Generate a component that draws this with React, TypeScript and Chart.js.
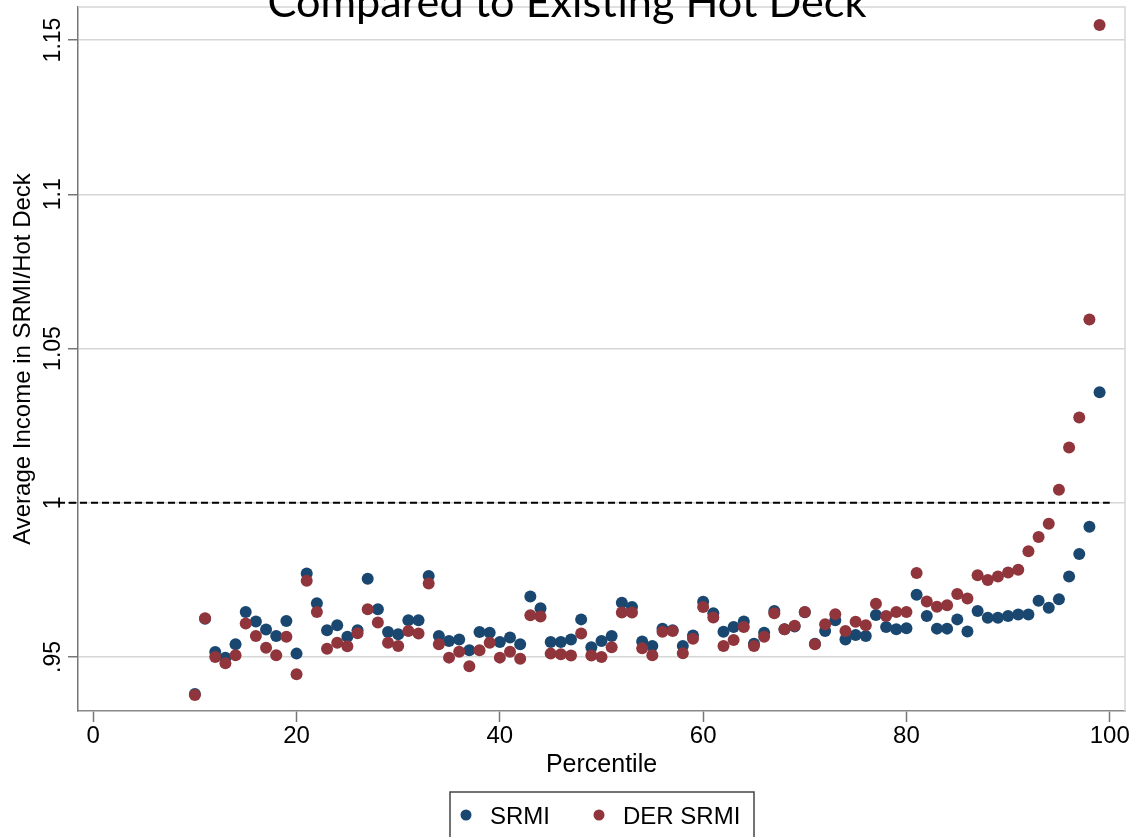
import React, { useEffect, useRef } from 'react';
import { Chart, registerables } from 'chart.js';

Chart.register(...registerables);

const percentiles = [
  10, 11, 12, 13, 14, 15, 16, 17, 18, 19,
  20, 21, 22, 23, 24, 25, 26, 27, 28, 29,
  30, 31, 32, 33, 34, 35, 36, 37, 38, 39,
  40, 41, 42, 43, 44, 45, 46, 47, 48, 49,
  50, 51, 52, 53, 54, 55, 56, 57, 58, 59,
  60, 61, 62, 63, 64, 65, 66, 67, 68, 69,
  70, 71, 72, 73, 74, 75, 76, 77, 78, 79,
  80, 81, 82, 83, 84, 85, 86, 87, 88, 89,
  90, 91, 92, 93, 94, 95, 96, 97, 98, 99,
];

const srmi = [
  0.9380, 0.9624, 0.9516, 0.9498, 0.9541, 0.9646, 0.9615, 0.9589, 0.9568, 0.9617,
  0.9511, 0.9771, 0.9674, 0.9587, 0.9603, 0.9566, 0.9587, 0.9754, 0.9655, 0.9581,
  0.9574, 0.9619, 0.9619, 0.9763, 0.9568, 0.9552, 0.9557, 0.9522, 0.9581, 0.9579,
  0.9549, 0.9563, 0.9541, 0.9696, 0.9658, 0.9549, 0.9549, 0.9557, 0.9622, 0.9532,
  0.9552, 0.9568, 0.9676, 0.9662, 0.9550, 0.9536, 0.9592, 0.9587, 0.9536, 0.9570,
  0.9679, 0.9642, 0.9582, 0.9597, 0.9615, 0.9543, 0.9579, 0.9649, 0.9590, 0.9599,
  0.9645, 0.9543, 0.9584, 0.9619, 0.9557, 0.9571, 0.9568, 0.9636, 0.9597, 0.9590,
  0.9593, 0.9702, 0.9633, 0.9592, 0.9592, 0.9622, 0.9583, 0.9649, 0.9627, 0.9627,
  0.9633, 0.9638, 0.9638, 0.9682, 0.9660, 0.9687, 0.9761, 0.9834, 0.9922, 1.0358,
];

const derSrmi = [
  0.9377, 0.9626, 0.9500, 0.9480, 0.9506, 0.9609, 0.9568, 0.9530, 0.9506, 0.9566,
  0.9444, 0.9747, 0.9646, 0.9527, 0.9546, 0.9535, 0.9577, 0.9655, 0.9612, 0.9546,
  0.9536, 0.9584, 0.9576, 0.9738, 0.9541, 0.9498, 0.9517, 0.9470, 0.9522, 0.9546,
  0.9498, 0.9517, 0.9494, 0.9635, 0.9631, 0.9511, 0.9509, 0.9505, 0.9576, 0.9505,
  0.9500, 0.9532, 0.9644, 0.9644, 0.9528, 0.9506, 0.9582, 0.9584, 0.9512, 0.9559,
  0.9662, 0.9628, 0.9536, 0.9555, 0.9597, 0.9536, 0.9566, 0.9642, 0.9590, 0.9601,
  0.9646, 0.9541, 0.9606, 0.9639, 0.9584, 0.9614, 0.9603, 0.9673, 0.9633, 0.9646,
  0.9646, 0.9772, 0.9680, 0.9663, 0.9668, 0.9704, 0.9690, 0.9765, 0.9750, 0.9761,
  0.9774, 0.9783, 0.9843, 0.9889, 0.9932, 1.0042, 1.0179, 1.0276, 1.0594, 1.1549,
];

const seriesNames = ['SRMI', 'DER SRMI'];
const xTicks = [0, 20, 40, 60, 80, 100];
const yTicks = [0.95, 1.0, 1.05, 1.1, 1.15];
const yTickLabels = ['.95', '1', '1.05', '1.1', '1.15'];
const referenceValue = 1.0;
const titleText = 'Compared to Existing Hot Deck';
const xTitle = 'Percentile';
const yTitle = 'Average Income in SRMI/Hot Deck';

const BLUE = '#1a476f';
const RED = '#90353b';
const FONT = '"Liberation Sans", Arial, Helvetica, sans-serif';

const decorPlugin = {
  id: 'decor',
  beforeDatasetsDraw(chart: any) {
    const { ctx, chartArea: a, scales } = chart;
    const x = scales.x;
    const y = scales.y;
    ctx.save();
    // top and right frame
    ctx.strokeStyle = '#d6d6d6';
    ctx.lineWidth = 1.5;
    ctx.beginPath();
    ctx.moveTo(a.left, a.top);
    ctx.lineTo(a.right, a.top);
    ctx.lineTo(a.right, a.bottom);
    ctx.stroke();
    // dashed reference line
    const yy = y.getPixelForValue(referenceValue);
    ctx.strokeStyle = '#000';
    ctx.lineWidth = 2;
    ctx.setLineDash([7, 4]);
    ctx.beginPath();
    ctx.moveTo(a.left - 20, yy);
    ctx.lineTo(x.getPixelForValue(100), yy);
    ctx.stroke();
    ctx.restore();
  },
  afterDraw(chart: any) {
    const { ctx, chartArea: a, scales } = chart;
    const y = scales.y;
    ctx.save();
    ctx.fillStyle = '#000';

    // y tick labels (rotated, Stata style)
    ctx.font = `23px ${FONT}`;
    ctx.textAlign = 'center';
    ctx.textBaseline = 'alphabetic';
    yTicks.forEach((v, i) => {
      const py = y.getPixelForValue(v);
      ctx.save();
      ctx.translate(60, py);
      ctx.rotate(-Math.PI / 2);
      ctx.fillText(yTickLabels[i], 0, 0);
      ctx.restore();
    });

    // y title
    ctx.font = `24px ${FONT}`;
    ctx.save();
    ctx.translate(30, (a.top + a.bottom) / 2);
    ctx.rotate(-Math.PI / 2);
    ctx.fillText(yTitle, 0, 0);
    ctx.restore();

    // x title
    ctx.font = `25px ${FONT}`;
    ctx.fillText(xTitle, (a.left + a.right) / 2, 772);

    // chart title (top cut off, as in the reference)
    ctx.font = `100px Lato, "Open Sans", sans-serif`;
    const w100 = ctx.measureText(titleText).width;
    const size = (100 * 599) / w100;
    ctx.font = `${size}px Lato, "Open Sans", sans-serif`;
    ctx.fillText(titleText, 567, 17);

    // legend
    ctx.strokeStyle = '#444';
    ctx.lineWidth = 1.5;
    ctx.strokeRect(450, 792, 304, 70);
    const colors = [BLUE, RED];
    const dotX = [466, 599];
    const textX = [490, 623];
    ctx.font = `24px ${FONT}`;
    ctx.textAlign = 'left';
    seriesNames.forEach((name, i) => {
      ctx.fillStyle = colors[i];
      ctx.beginPath();
      ctx.arc(dotX[i], 815, 5.5, 0, Math.PI * 2);
      ctx.fill();
      ctx.fillStyle = '#000';
      ctx.fillText(name, textX[i], 824);
    });
    ctx.restore();
  },
};

export default function App() {
  const canvasRef = useRef<HTMLCanvasElement | null>(null);

  useEffect(() => {
    document.body.style.margin = '0';
    document.body.style.overflow = 'hidden';
    const canvas = canvasRef.current;
    if (!canvas) return;

    const chart = new Chart(canvas, {
      type: 'scatter',
      data: {
        datasets: [
          {
            label: seriesNames[0],
            data: percentiles.map((p, i) => ({ x: p, y: srmi[i] })),
            backgroundColor: BLUE,
            borderColor: BLUE,
            borderWidth: 0,
            pointRadius: 6,
            order: 1,
          },
          {
            label: seriesNames[1],
            data: percentiles.map((p, i) => ({ x: p, y: derSrmi[i] })),
            backgroundColor: RED,
            borderColor: RED,
            borderWidth: 0,
            pointRadius: 6,
            order: 0,
          },
        ],
      },
      options: {
        animation: false,
        responsive: false,
        devicePixelRatio: 1,
        layout: { padding: { top: 7, right: 9, left: 0, bottom: 0 } },
        plugins: {
          legend: { display: false },
          tooltip: { enabled: false },
          title: { display: false },
        },
        scales: {
          x: {
            type: 'linear',
            min: -1.5,
            max: 101.5,
            afterBuildTicks: (scale: any) => {
              scale.ticks = xTicks.map((v) => ({ value: v }));
            },
            afterFit: (scale: any) => {
              scale.height = 126;
            },
            grid: {
              drawOnChartArea: false,
              drawTicks: true,
              tickLength: 11,
              tickColor: '#777',
              tickWidth: 1.5,
            },
            border: { display: true, color: '#888', width: 1.5 },
            ticks: {
              padding: 0,
              color: '#000',
              font: { family: FONT, size: 24 },
              maxRotation: 0,
              callback: (v: any) => String(v),
            },
          },
          y: {
            type: 'linear',
            min: 0.9325,
            max: 1.1607,
            afterBuildTicks: (scale: any) => {
              scale.ticks = yTicks.map((v) => ({ value: v }));
            },
            afterFit: (scale: any) => {
              scale.width = 78;
            },
            grid: {
              drawOnChartArea: true,
              color: '#d6d6d6',
              lineWidth: 1.5,
              drawTicks: true,
              tickLength: 10,
              tickColor: '#777',
              tickWidth: 1.5,
            },
            border: { display: true, color: '#777', width: 1.5 },
            ticks: { display: false },
          },
        },
      },
      plugins: [decorPlugin],
    });

    if ((document as any).fonts && (document as any).fonts.load) {
      (document as any).fonts.load('40px Lato').then(() => chart.update()).catch(() => {});
    }

    return () => {
      chart.destroy();
    };
  }, []);

  return (
    <div style={{ width: 1134, height: 837, position: 'relative' }}>
      <canvas ref={canvasRef} width={1134} height={837} style={{ display: 'block' }} />
    </div>
  );
}
